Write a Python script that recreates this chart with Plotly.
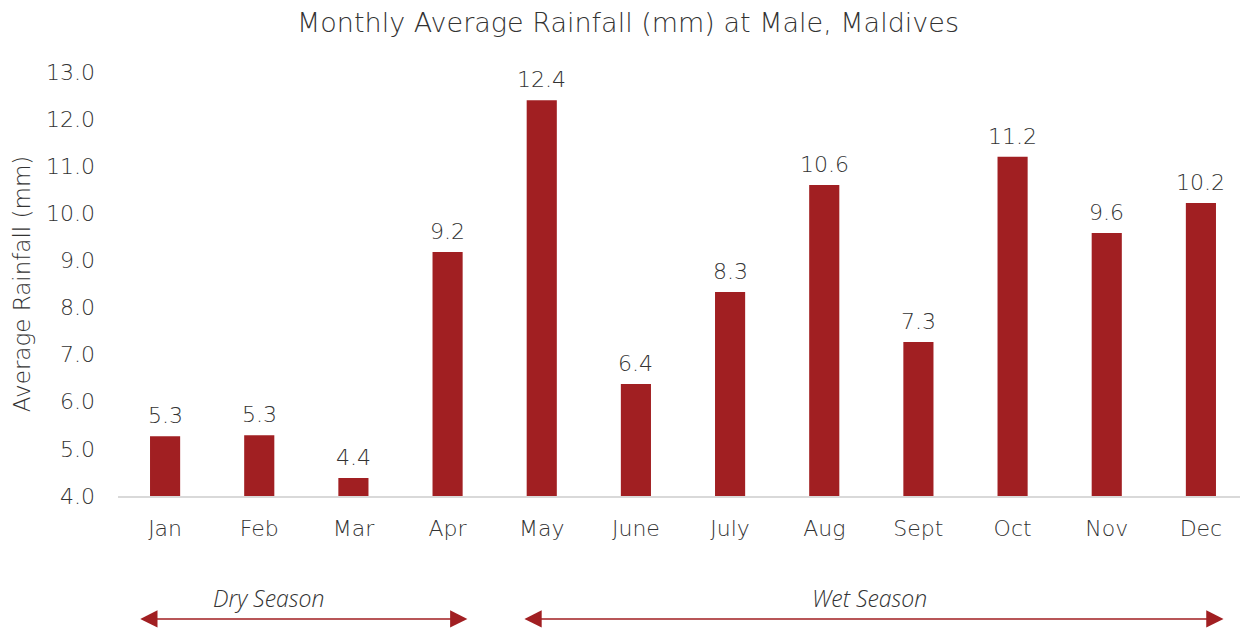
import plotly.graph_objects as go

months = ["Jan", "Feb", "Mar", "Apr", "May", "June", "July", "Aug", "Sept", "Oct", "Nov", "Dec"]
rainfall = [5.27, 5.29, 4.38, 9.18, 12.4, 6.38, 8.33, 10.6, 7.27, 11.2, 9.58, 10.22]
y_ticks = [4, 5, 6, 7, 8, 9, 10, 11, 12, 13]

seasons = ["Dry Season", "Wet Season"]
season_start = [-0.28, 3.80]
season_end = [3.21, 11.24]
season_label_x = [1.10, 7.48]

FONT = "DejaVu Sans"
W = 200
TXT = "#333333"
BAR = "#A11F22"
ARROW = "#A11F22"

fig = go.Figure()
fig.add_trace(go.Bar(
    x=list(range(len(months))), y=rainfall, marker=dict(color=BAR, line=dict(width=0)),
    base=0, hoverinfo="skip",
))

annotations = []
for i, v in enumerate(rainfall):
    annotations.append(dict(x=i, y=v, xref="x", yref="y", text=f"{v:.1f}", showarrow=False,
                            yanchor="bottom", yshift=6,
                            font=dict(family=FONT, size=22, color=TXT, weight=W)))

for name, s, e, lx in zip(seasons, season_start, season_end, season_label_x):
    annotations.append(dict(x=e, y=-0.29, xref="x", yref="paper", ax=s, ay=0, axref="x", ayref="pixel",
                            showarrow=True, arrowside="end+start", arrowhead=2, arrowsize=2.3,
                            arrowwidth=1.5, arrowcolor=ARROW, text=""))
    annotations.append(dict(x=lx, y=-0.24, xref="x", yref="paper", text=name,
                            showarrow=False, yanchor="middle",
                            font=dict(family="Open Sans", size=23, color=TXT, weight=300, style="italic")))

fig.update_layout(
    width=1240, height=622,
    margin=dict(l=110, r=0, t=64, b=134),
    paper_bgcolor="white", plot_bgcolor="white",
    bargap=0.68,
    showlegend=False,
    title=dict(text="Monthly Average Rainfall (mm) at Male, Maldives", x=0.5, xanchor="center",
               y=0.977, yanchor="middle",
               font=dict(family=FONT, size=27, color=TXT, weight=W)),
    xaxis=dict(range=[-0.5, 11.5], tickmode="array", tickvals=list(range(len(months))), ticktext=months,
               showgrid=False, zeroline=False, showline=True, linecolor="#D9D9D9", linewidth=2,
               ticks="", ticklabelstandoff=12,
               tickfont=dict(family=FONT, size=22, color=TXT, weight=W), fixedrange=True),
    yaxis=dict(range=[4, 13], tickmode="array", tickvals=y_ticks, ticktext=[f"{t:.1f}" for t in y_ticks],
               showgrid=False, zeroline=False, showline=False, ticks="", ticklabelstandoff=22,
               tickfont=dict(family=FONT, size=22, color=TXT, weight=W),
               title=dict(text="Average Rainfall (mm)", standoff=8,
                          font=dict(family=FONT, size=23, color=TXT, weight=W))),
    annotations=annotations,
)

fig.write_html("out.html")
